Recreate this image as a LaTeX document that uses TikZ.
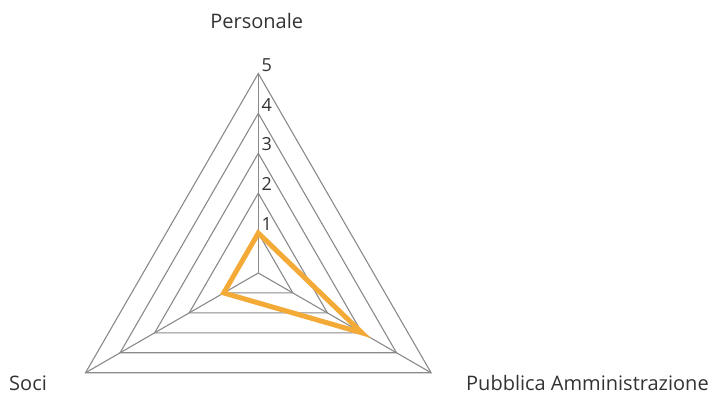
\documentclass[tikz,border=0pt]{standalone}
\usepackage{fontspec}
\setmainfont{Open Sans}
\usetikzlibrary{positioning}
\definecolor{radarOrange}{RGB}{244,170,55}
\definecolor{gridGray}{RGB}{138,138,138}
\begin{document}
\begin{tikzpicture}[x=1pt,y=1pt]
\tikzset{myFont/.style={font=\fontsize{20}{23}\selectfont,text=black!80}}
\tikzset{myTick/.style={font=\fontsize{18}{21}\selectfont,text=black!80}}
\tikzset{myGrid/.style={draw=gridGray,line width=1.1pt}}
\tikzset{mySeries/.style={draw=radarOrange,line width=5pt,line join=miter}}
\useasboundingbox (0,0) rectangle (718,396);

\coordinate (O) at (258.3,123);
% levels 1..5 on the three axes
\foreach \r in {1,...,5} {
  \coordinate (P\r) at ([shift={(90:\r*39.9)}]O);
  \coordinate (A\r) at ([shift={(-30:\r*39.9)}]O);
  \coordinate (S\r) at ([shift={(210:\r*39.9)}]O);
  \draw[myGrid] (P\r) -- (A\r) -- (S\r) -- cycle;
  \node[myTick,anchor=south west,inner sep=0pt,xshift=3pt,yshift=2pt] (tick\r) at (P\r) {\r};
}
\draw[myGrid] (O) -- (P5);
\draw[myGrid] (O) -- (A5);
\draw[myGrid] (O) -- (S5);

% series
\draw[mySeries] (P1) -- (A3) -- (S1) -- cycle;

% axis labels
\node[myFont,anchor=base,inner sep=0pt] (personale) at (256.7,367) {Personale};
\node[myFont,anchor=base west,inner sep=0pt] (soci) at (9,5) {Soci};
\node[myFont,anchor=base west,inner sep=0pt] (pa) at (466,5) {Pubblica Amministrazione};
\end{tikzpicture}
\end{document}
